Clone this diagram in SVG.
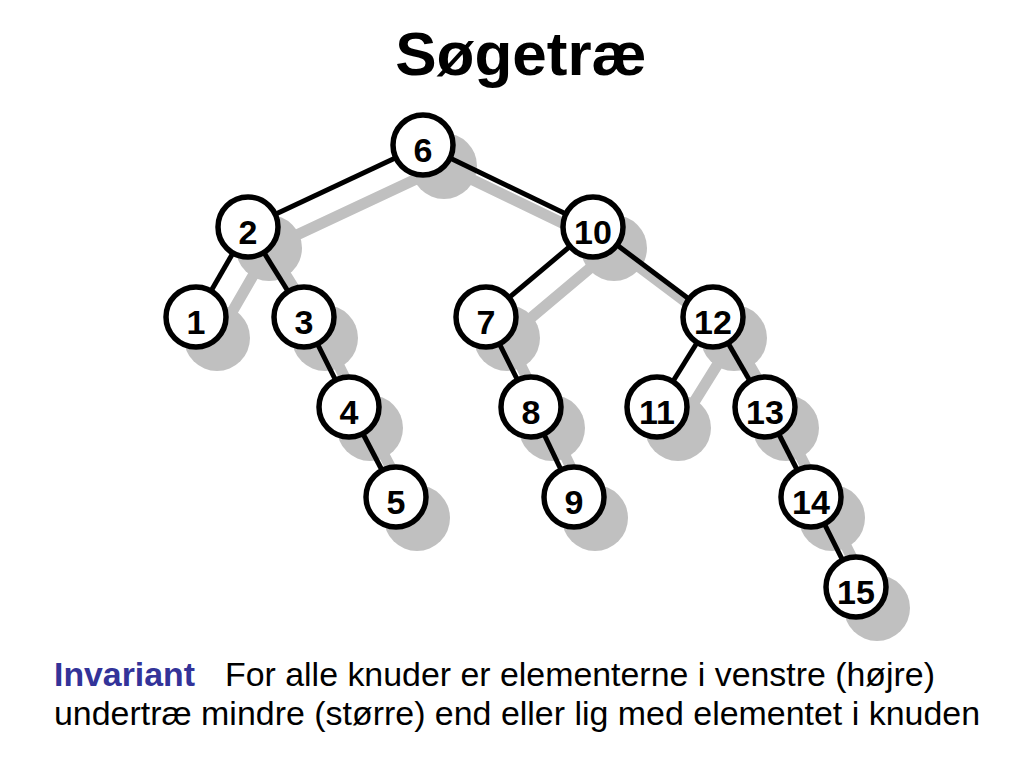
<svg xmlns="http://www.w3.org/2000/svg" width="1024" height="768" viewBox="0 0 1024 768">
<defs>
<style>
.sh line{stroke:#c0c0c0;stroke-width:11;stroke-linecap:round}
.sh circle{fill:#c0c0c0}
.edges line{stroke:#000;stroke-width:5}
.node circle{fill:#fff;stroke:#000;stroke-width:5.5}
.node text{font-family:"Liberation Sans",Arial,sans-serif;font-weight:bold;font-size:34px;text-anchor:middle;fill:#000}
.title{font-family:"Liberation Sans",Arial,sans-serif;font-weight:bold;font-size:62px;text-anchor:middle;fill:#000}
.body{font-family:"Liberation Sans",Arial,sans-serif;font-size:33.5px;fill:#000}
.kw{font-family:"Liberation Sans",Arial,sans-serif;font-size:33.5px;font-weight:bold;fill:#333399}
</style>
</defs>
<rect width="1024" height="768" fill="#fff"/>
<text class="title" x="521" y="75">Søgetræ</text>

<g id="shadows" class="sh" transform="translate(21,21)">
<line x1="423" y1="145" x2="248" y2="227"/>
<line x1="423" y1="145" x2="593" y2="227"/>
<line x1="248" y1="227" x2="196" y2="317"/>
<line x1="248" y1="227" x2="304" y2="317"/>
<line x1="593" y1="227" x2="486" y2="317"/>
<line x1="593" y1="227" x2="713" y2="317"/>
<line x1="304" y1="317" x2="349" y2="407"/>
<line x1="349" y1="407" x2="396" y2="497"/>
<line x1="486" y1="317" x2="531" y2="407"/>
<line x1="531" y1="407" x2="574" y2="497"/>
<line x1="713" y1="317" x2="657" y2="407"/>
<line x1="713" y1="317" x2="765" y2="407"/>
<line x1="765" y1="407" x2="811" y2="497"/>
<line x1="811" y1="497" x2="856" y2="587"/>
<circle cx="423" cy="145" r="33"/>
<circle cx="248" cy="227" r="33"/>
<circle cx="593" cy="227" r="33"/>
<circle cx="196" cy="317" r="33"/>
<circle cx="304" cy="317" r="33"/>
<circle cx="486" cy="317" r="33"/>
<circle cx="713" cy="317" r="33"/>
<circle cx="349" cy="407" r="33"/>
<circle cx="531" cy="407" r="33"/>
<circle cx="657" cy="407" r="33"/>
<circle cx="765" cy="407" r="33"/>
<circle cx="396" cy="497" r="33"/>
<circle cx="574" cy="497" r="33"/>
<circle cx="811" cy="497" r="33"/>
<circle cx="856" cy="587" r="33"/>
</g>

<g id="connectors" class="edges">
<line x1="423" y1="145" x2="248" y2="227"/>
<line x1="423" y1="145" x2="593" y2="227"/>
<line x1="248" y1="227" x2="196" y2="317"/>
<line x1="248" y1="227" x2="304" y2="317"/>
<line x1="593" y1="227" x2="486" y2="317"/>
<line x1="593" y1="227" x2="713" y2="317"/>
<line x1="304" y1="317" x2="349" y2="407"/>
<line x1="349" y1="407" x2="396" y2="497"/>
<line x1="486" y1="317" x2="531" y2="407"/>
<line x1="531" y1="407" x2="574" y2="497"/>
<line x1="713" y1="317" x2="657" y2="407"/>
<line x1="713" y1="317" x2="765" y2="407"/>
<line x1="765" y1="407" x2="811" y2="497"/>
<line x1="811" y1="497" x2="856" y2="587"/>
</g>

<g id="n6" class="node"><circle cx="423" cy="145" r="30"/><text x="423" y="162">6</text></g>
<g id="n2" class="node"><circle cx="248" cy="227" r="30"/><text x="248" y="244">2</text></g>
<g id="n10" class="node"><circle cx="593" cy="227" r="30"/><text x="593" y="244">10</text></g>
<g id="n1" class="node"><circle cx="196" cy="317" r="30"/><text x="196" y="334">1</text></g>
<g id="n3" class="node"><circle cx="304" cy="317" r="30"/><text x="304" y="334">3</text></g>
<g id="n7" class="node"><circle cx="486" cy="317" r="30"/><text x="486" y="334">7</text></g>
<g id="n12" class="node"><circle cx="713" cy="317" r="30"/><text x="713" y="334">12</text></g>
<g id="n4" class="node"><circle cx="349" cy="407" r="30"/><text x="349" y="424">4</text></g>
<g id="n8" class="node"><circle cx="531" cy="407" r="30"/><text x="531" y="424">8</text></g>
<g id="n11" class="node"><circle cx="657" cy="407" r="30"/><text x="657" y="424">11</text></g>
<g id="n13" class="node"><circle cx="765" cy="407" r="30"/><text x="765" y="424">13</text></g>
<g id="n5" class="node"><circle cx="396" cy="497" r="30"/><text x="396" y="514">5</text></g>
<g id="n9" class="node"><circle cx="574" cy="497" r="30"/><text x="574" y="514">9</text></g>
<g id="n14" class="node"><circle cx="811" cy="497" r="30"/><text x="811" y="514">14</text></g>
<g id="n15" class="node"><circle cx="856" cy="587" r="30"/><text x="856" y="604">15</text></g>

<text class="kw" x="54" y="686" textLength="141" lengthAdjust="spacingAndGlyphs">Invariant</text>
<text class="body" x="225" y="686" textLength="710" lengthAdjust="spacingAndGlyphs">For alle knuder er elementerne i venstre (højre)</text>
<text class="body" x="54" y="725" textLength="926" lengthAdjust="spacingAndGlyphs">undertræ mindre (større) end eller lig med elementet i knuden</text>
</svg>
